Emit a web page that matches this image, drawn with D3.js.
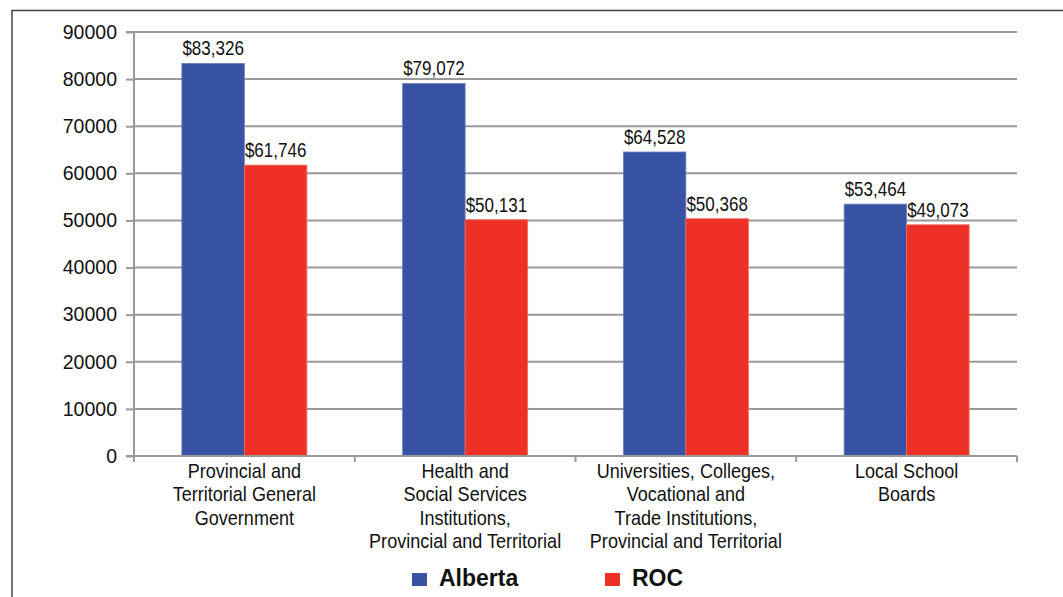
<!DOCTYPE html>
<html><head><meta charset="utf-8">
<script src="https://cdn.jsdelivr.net/npm/d3@7"></script>
<style>
body{margin:0;background:#fff;}
svg{display:block;}
</style></head>
<body>
<svg id="c" width="1063" height="597"></svg>
<script>
const categories = [
  ["Provincial and","Territorial General","Government"],
  ["Health and","Social Services","Institutions,","Provincial and Territorial"],
  ["Universities, Colleges,","Vocational and","Trade Institutions,","Provincial and Territorial"],
  ["Local School","Boards"]
];
const seriesNames = ["Alberta","ROC"];
const albertaValues = [83326, 79072, 64528, 53464];
const rocValues = [61746, 50131, 50368, 49073];
const yTicks = [0,10000,20000,30000,40000,50000,60000,70000,80000,90000];
const colors = ["#3953A4","#EE3124"];

(function(){
const svg = d3.select("#c");
const pL = 134, pR = 1017, pT = 32, pB = 456;
const font = "Arial,'Liberation Sans',sans-serif";

// frame
svg.append("path").attr("d","M12,600 L12,10.5 L1070,10.5").attr("fill","none").attr("stroke","#444").attr("stroke-width",1.5);

const x0 = d3.scaleBand().domain(d3.range(categories.length)).range([pL,pR]).paddingInner(0).paddingOuter(0);
const x1 = d3.scaleBand().domain(seriesNames).range([0,x0.bandwidth()]).paddingInner(0).paddingOuter(0.766);
const y = d3.scaleLinear().domain([0,90000]).range([pB,pT]);

// grid
svg.append("g").selectAll("line").data(yTicks.filter(d=>d>0)).join("line")
  .attr("x1",pL).attr("x2",pR).attr("y1",d=>y(d)).attr("y2",d=>y(d))
  .attr("stroke","#999").attr("stroke-width",2);

// y axis
const ya = svg.append("g").attr("transform",`translate(${pL},0)`)
  .call(d3.axisLeft(y).tickValues(yTicks).tickSize(8).tickPadding(9).tickFormat(d3.format("d")));
ya.select(".domain").attr("stroke","#999").attr("stroke-width",2).attr("d",`M-8,${pT}H0V${pB+6}`);
ya.selectAll(".tick line").attr("stroke","#999").attr("stroke-width",2);
ya.selectAll("text").attr("font-family",font).attr("font-size",19.5).attr("fill","#111");

// bars
const data = categories.map((c,i)=>({i, vals:[albertaValues[i], rocValues[i]]}));
const g = svg.append("g").selectAll("g").data(data).join("g").attr("transform",d=>`translate(${x0(d.i)},0)`);
g.selectAll("rect").data(d=>d.vals.map((v,k)=>({k,v}))).join("rect")
  .attr("x",d=>x1(seriesNames[d.k])).attr("width",x1.bandwidth())
  .attr("y",d=>y(d.v)).attr("height",d=>pB-y(d.v))
  .attr("fill",d=>colors[d.k]).attr("stroke",d=>d.k===0?"#6b7fc0":"#f46a5f").attr("stroke-width",0.8);
g.selectAll("text").data(d=>d.vals.map((v,k)=>({k,v}))).join("text")
  .attr("transform",d=>`translate(${x1(seriesNames[d.k])+x1.bandwidth()/2},${y(d.v)-8}) scale(0.83,1)`)
  .attr("text-anchor","middle").attr("font-family",font).attr("font-size",20.5).attr("fill","#111")
  .text(d=>"$"+d3.format(",")(d.v));

// x axis
svg.append("line").attr("x1",pL-8).attr("x2",pR).attr("y1",pB).attr("y2",pB).attr("stroke","#999").attr("stroke-width",2);
svg.append("g").selectAll("line").data(d3.range(categories.length+1)).join("line")
  .attr("x1",d=>pL+d*x0.bandwidth()).attr("x2",d=>pL+d*x0.bandwidth())
  .attr("y1",pB).attr("y2",pB+6).attr("stroke","#999").attr("stroke-width",2);

// category labels
svg.append("g").selectAll("text").data(categories).join("text")
  .attr("transform",(d,i)=>`translate(${x0(i)+x0.bandwidth()/2},478) scale(0.88,1)`)
  .attr("text-anchor","middle").attr("font-family",font).attr("font-size",20.5).attr("fill","#111")
  .selectAll("tspan").data(d=>d).join("tspan")
  .attr("x",0).attr("dy",(d,j)=>j===0?0:23.5).text(d=>d);

// legend
const lg = svg.append("g");
const lx = [412, 605];
seriesNames.forEach((s,k)=>{
  lg.append("rect").attr("x",lx[k]).attr("y",573).attr("width",15).attr("height",13).attr("fill",colors[k]);
  lg.append("text").attr("x",lx[k]+27).attr("y",586).attr("font-family",font)
    .attr("font-weight","bold").attr("font-size",23).attr("fill","#111").text(s);
});
})();
</script>
</body></html>
